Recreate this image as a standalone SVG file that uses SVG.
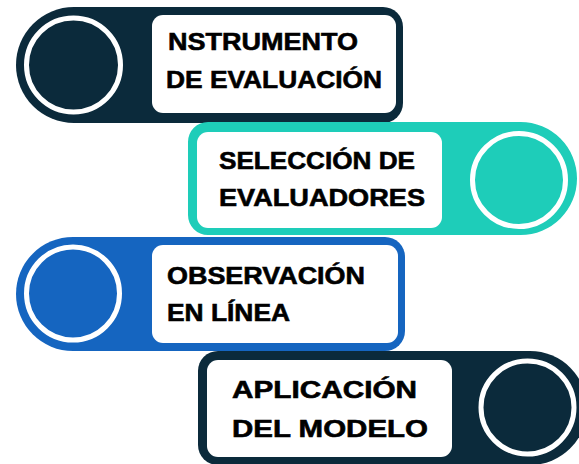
<svg xmlns="http://www.w3.org/2000/svg" width="579" height="464" viewBox="0 0 579 464">
<style>
.navy{fill:#0b2a3b}
.teal{fill:#1ecdb9}
.blue{fill:#1565c0}
.box{fill:#ffffff}
.ring{fill:none;stroke:#ffffff;stroke-width:5}
.t{font-family:"Liberation Sans",Arial,sans-serif;font-weight:bold;font-size:24px;fill:#000000;stroke:#000000;stroke-width:0.6}
</style>
<rect width="579" height="464" fill="#ffffff"/>
<g id="connectors"></g>
<g id="node1">
<path class="navy" d="M74 7 H383 A20 20 0 0 1 403 27 V103 A20 20 0 0 1 383 123 H74 A58 58 0 0 1 74 7 Z"/>
<circle class="ring" cx="73.5" cy="65" r="47"/>
<rect class="box" x="152" y="15" width="244" height="98" rx="11"/>
<text class="t" x="168" y="50" textLength="190" lengthAdjust="spacingAndGlyphs">NSTRUMENTO</text>
<text class="t" x="166" y="88" textLength="216" lengthAdjust="spacingAndGlyphs">DE EVALUACIÓN</text>
</g>
<g id="node2">
<path class="teal" d="M208 122 H520.5 A56.5 56.5 0 0 1 520.5 235 H208 A20 20 0 0 1 188 215 V142 A20 20 0 0 1 208 122 Z"/>
<circle class="ring" cx="519" cy="180" r="46.5"/>
<rect class="box" x="197" y="132" width="245" height="96" rx="11"/>
<text class="t" x="219" y="169" textLength="196" lengthAdjust="spacingAndGlyphs">SELECCIÓN DE</text>
<text class="t" x="219" y="206" textLength="206" lengthAdjust="spacingAndGlyphs">EVALUADORES</text>
</g>
<g id="node3">
<path class="blue" d="M73 237 H385 A20 20 0 0 1 405 257 V331 A20 20 0 0 1 385 351 H73 A57 57 0 0 1 73 237 Z"/>
<circle class="ring" cx="73" cy="293.5" r="46.5"/>
<rect class="box" x="152" y="245" width="246" height="98" rx="11"/>
<text class="t" x="167" y="284" textLength="198" lengthAdjust="spacingAndGlyphs">OBSERVACIÓN</text>
<text class="t" x="167" y="321" textLength="123" lengthAdjust="spacingAndGlyphs">EN LÍNEA</text>
</g>
<g id="node4">
<path class="navy" d="M218 351 H530 A57 57 0 0 1 530 465 H218 A20 20 0 0 1 198 445 V371 A20 20 0 0 1 218 351 Z"/>
<circle class="ring" cx="527.5" cy="407.5" r="46.5"/>
<rect class="box" x="207" y="360" width="245" height="97" rx="11"/>
<text class="t" x="232" y="398" textLength="185" lengthAdjust="spacingAndGlyphs">APLICACIÓN</text>
<text class="t" x="232" y="437" textLength="196" lengthAdjust="spacingAndGlyphs">DEL MODELO</text>
</g>
</svg>
